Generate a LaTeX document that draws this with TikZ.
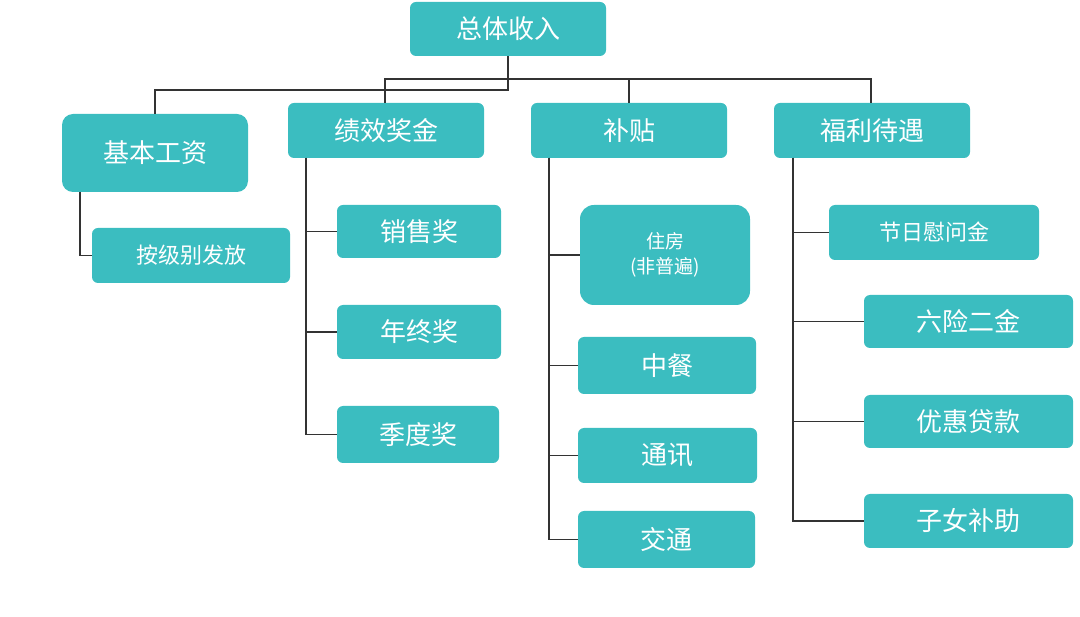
\documentclass[tikz,border=0pt]{standalone}
\usepackage{fontspec}
\setmainfont{Noto Sans CJK SC}
\begin{document}
\begin{tikzpicture}[x=1pt,y=-1pt,
  box/.style={fill=teal1,draw=none,rounded corners=6pt,text=white,inner sep=0pt,font=\fontsize{26}{30}\selectfont},
  link/.style={draw=line1,line width=1.2pt}]
\definecolor{teal1}{HTML}{3BBDC0}
\definecolor{line1}{HTML}{333333}
\colorlet{teal1}{teal1}
\useasboundingbox (0,0) rectangle (1080,617);
\newcommand{\bx}[6][]{\node[box,minimum width=#4-#2,minimum height=#5-#3,#1] (#6) at ({(#2+#4)/2},{(#3+#5)/2})}
% top
\bx{410}{2}{606}{56}{top} {总体收入};
% level 1
\bx[rounded corners=11pt]{62}{114}{248}{192}{jb} {基本工资};
\bx{288}{103}{484}{158}{jx} {绩效奖金};
\bx{531}{103}{727}{158}{bt} {补贴};
\bx{774}{103}{970}{158}{fl} {福利待遇};
% children
\bx[font=\fontsize{22}{26}\selectfont]{92}{228}{290}{283}{ajb} {按级别发放};
\bx{337}{205}{501}{258}{xs} {销售奖};
\bx{337}{305}{501}{359}{nz} {年终奖};
\bx{337}{406}{499}{463}{jd} {季度奖};
\bx[rounded corners=14pt,font=\fontsize{19}{25}\selectfont,align=center]{580}{205}{750}{305}{zf} {住房\\(非普遍)};
\bx{578}{337}{756}{394}{zc} {中餐};
\bx{578}{428}{757}{483}{tx} {通讯};
\bx{578}{511}{755}{568}{jt} {交通};
\bx[font=\fontsize{22}{26}\selectfont]{829}{205}{1039}{260}{jr} {节日慰问金};
\bx{864}{295}{1073}{348}{lx} {六险二金};
\bx{864}{395}{1073}{448}{yh} {优惠贷款};
\bx{864}{494}{1073}{548}{zn} {子女补助};
% top connectors
\coordinate (t1) at (508,90);
\coordinate (t2) at (155,90);
\coordinate (h1) at (385,79);
\coordinate (h2) at (871,79);
\coordinate (h3) at (629,79);
\draw[link] (top.south) -- (t1) -- (t2) -- (jb.north -| t2);
\draw[link] (jx.north -| h1) -- (h1) -- (h2) -- (fl.north -| h2);
\draw[link] (h3) -- (bt.north -| h3);
% 基本工资
\coordinate (a0) at (80,192);
\draw[link] (a0) |- (ajb.west);
% 绩效奖金
\coordinate (b0) at (306,158);
\draw[link] (b0) |- (jd.west);
\draw[link] (b0) |- (xs.west);
\draw[link] (b0) |- (nz.west);
% 补贴
\coordinate (c0) at (549,158);
\draw[link] (c0) |- (jt.west);
\draw[link] (c0) |- (zf.west);
\draw[link] (c0) |- (zc.west);
\draw[link] (c0) |- (tx.west);
% 福利待遇
\coordinate (d0) at (793,158);
\draw[link] (d0) |- (zn.west);
\draw[link] (d0) |- (jr.west);
\draw[link] (d0) |- (lx.west);
\draw[link] (d0) |- (yh.west);
\end{tikzpicture}
\end{document}
